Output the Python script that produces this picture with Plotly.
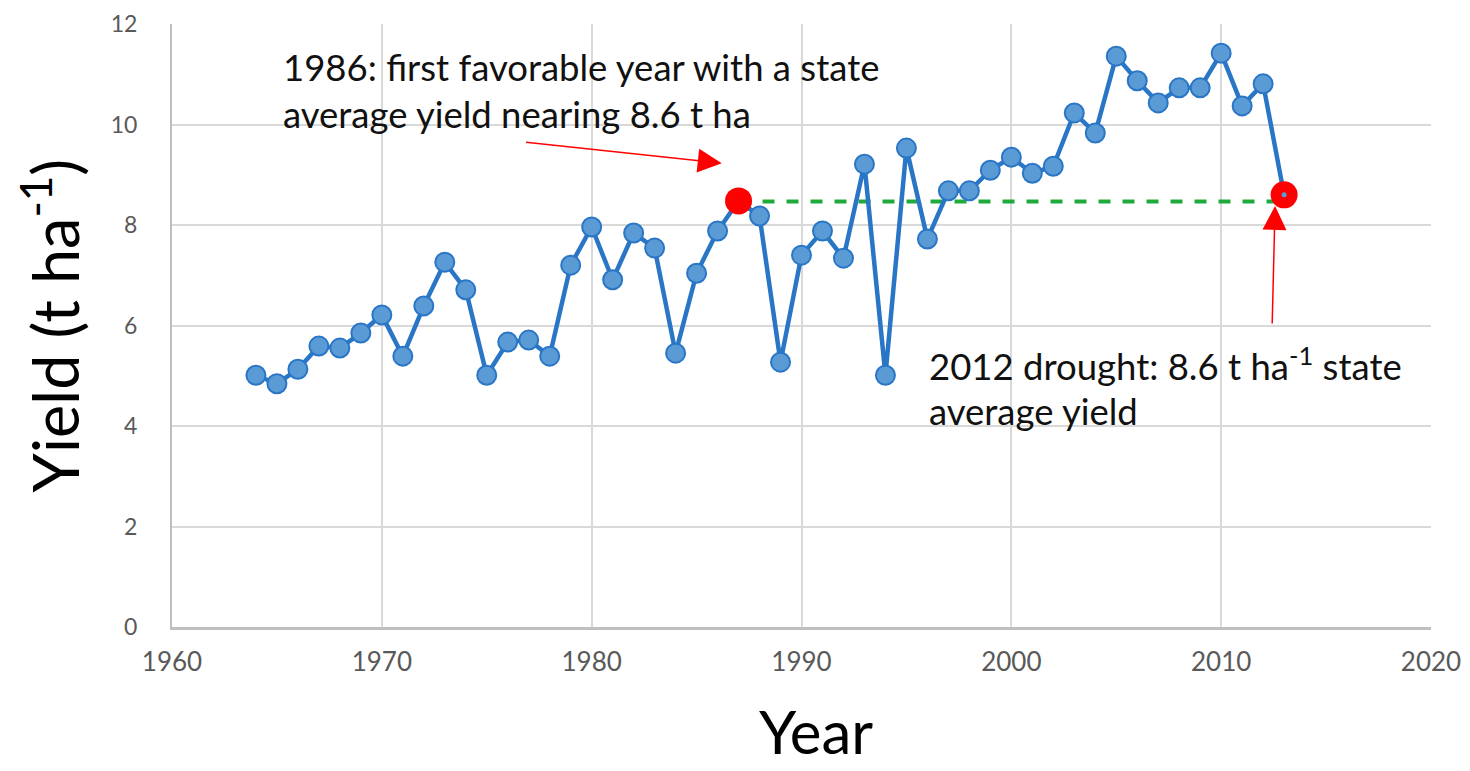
import plotly.graph_objects as go

years = list(range(1964, 2014))
yields = [5.01, 4.84, 5.13, 5.59, 5.55, 5.85, 6.21, 5.39, 6.39, 7.26,
          6.71, 5.01, 5.67, 5.71, 5.39, 7.20, 7.96, 6.91, 7.84, 7.54,
          5.45, 7.04, 7.88, 8.48, 8.18, 5.27, 7.40, 7.88, 7.34, 9.21,
          5.01, 9.53, 7.72, 8.68, 8.68, 9.09, 9.35, 9.03, 9.17, 10.23,
          9.83, 11.36, 10.87, 10.43, 10.73, 10.73, 11.42, 10.37, 10.81, 8.60]

highlight_years = [1987, 2013]
highlight_yields = [8.48, 8.60]
ref_level = 8.47

FONT = "Lato"

fig = go.Figure()

# reference dashed line
fig.add_trace(go.Scatter(
    x=[highlight_years[0], highlight_years[1]], y=[ref_level, ref_level],
    mode="lines", line=dict(color="#1faa3c", width=4, dash="dash"),
    hoverinfo="skip", showlegend=False))

fig.add_trace(go.Scatter(
    x=years, y=yields, mode="lines+markers",
    line=dict(color="#2a76c6", width=4.5),
    marker=dict(size=19, color="#5b9bd5", line=dict(color="#2a76c6", width=2)),
    showlegend=False))

fig.add_trace(go.Scatter(
    x=highlight_years, y=highlight_yields, mode="markers",
    marker=dict(size=27, color="#ff0000"),
    showlegend=False))
fig.add_trace(go.Scatter(
    x=highlight_years[1:], y=highlight_yields[1:], mode="markers",
    marker=dict(size=5, color="#5b9bd5"),
    showlegend=False))

grid = "#d9d9d9"
fig.update_xaxes(range=[1960, 2020], dtick=10, tick0=1960, automargin=False,
                 showgrid=True, gridcolor=grid, gridwidth=2,
                 showline=True, linecolor="#bfbfbf", linewidth=3,
                 ticks="", zeroline=False, ticklabelstandoff=10,
                 tickfont=dict(family=FONT, size=26, color="#595959"))
fig.update_yaxes(range=[0, 12], dtick=2, tick0=0, automargin=False,
                 showgrid=True, gridcolor=grid, gridwidth=2,
                 showline=True, linecolor="#bfbfbf", linewidth=2,
                 ticks="", zeroline=False, ticklabelstandoff=28,
                 tickfont=dict(family=FONT, size=23, color="#595959"))

txt = dict(family=FONT, size=36.5, color="#111111")
annotations = [
    # axis titles
    dict(x=1990.67, y=-0.172, xref="x", yref="paper", xanchor="center", yanchor="middle",
         text="Year", showarrow=False,
         font=dict(family=FONT, size=60, color="#000000")),
    dict(x=-0.097, y=0.5, xref="paper", yref="paper", xanchor="center", yanchor="middle",
         text="Yield (t ha<sup>-1</sup>)", textangle=-90, showarrow=False,
         font=dict(family=FONT, size=63, color="#000000")),
    # notes
    dict(x=1965.2, y=11.14, xref="x", yref="y", xanchor="left", yanchor="middle",
         text="1986: first favorable year with a state", showarrow=False, font=txt),
    dict(x=1965.2, y=10.21, xref="x", yref="y", xanchor="left", yanchor="middle",
         text="average yield nearing 8.6 t ha", showarrow=False, font=txt),
    dict(x=1996.0, y=5.24, xref="x", yref="y", xanchor="left", yanchor="middle",
         text="2012 drought: 8.6 t ha<sup>-1</sup> state", showarrow=False, font=txt),
    dict(x=1996.0, y=4.3, xref="x", yref="y", xanchor="left", yanchor="middle",
         text="average yield", showarrow=False, font=txt),
    # arrows
    dict(x=1986.2, y=9.23, ax=1976.8, ay=9.65, xref="x", yref="y", axref="x", ayref="y",
         text="", showarrow=True, arrowhead=2, arrowsize=3.2, arrowwidth=1.5,
         arrowcolor="#ff0000"),
    dict(x=2012.57, y=8.38, ax=2012.43, ay=6.01, xref="x", yref="y", axref="x", ayref="y",
         text="", showarrow=True, arrowhead=2, arrowsize=3.2, arrowwidth=1.5,
         arrowcolor="#ff0000"),
]

fig.update_layout(
    width=1462, height=763,
    margin=dict(l=164, r=39, t=16, b=144),
    plot_bgcolor="white", paper_bgcolor="white",
    annotations=annotations,
    font=dict(family=FONT),
)

fig.write_html("out.html")
